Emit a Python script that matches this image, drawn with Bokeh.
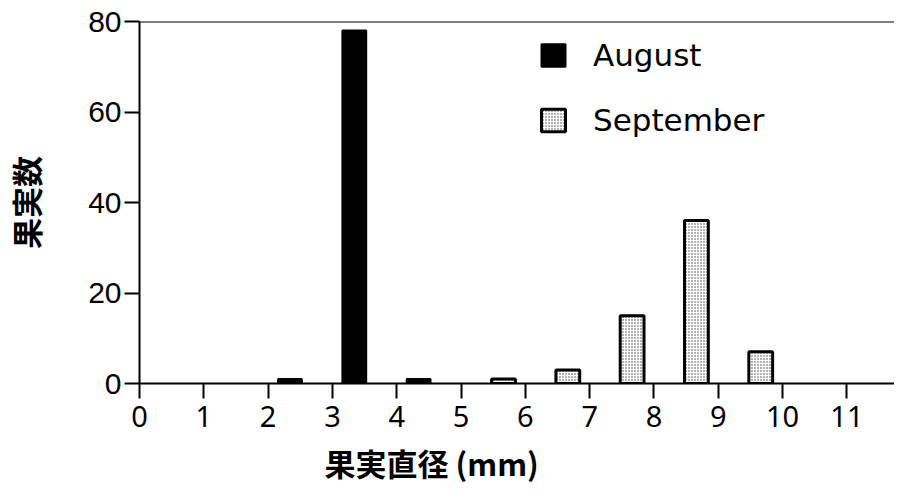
from bokeh.plotting import figure
from bokeh.models import (Range1d, ColumnDataSource, Legend, LegendItem, Title,
                          FixedTicker, Span)
from bokeh.transform import dodge
from bokeh.embed import file_html
from bokeh.resources import INLINE

# ---- data ----
bin_left = [0, 1, 2, 3, 4, 5, 6, 7, 8, 9, 10]
august = [0, 0, 1, 78, 1, 0, 0, 0, 0, 0, 0]
september = [0, 0, 0, 0, 0, 1, 3, 15, 36, 7, 0]
x_ticks = [0, 1, 2, 3, 4, 5, 6, 7, 8, 9, 10, 11]
y_ticks = [0, 20, 40, 60, 80]
x_title = "果実直径 (mm)"
y_title = "果実数"

aug_src = ColumnDataSource(dict(
    x=[b for b, v in zip(bin_left, august) if v > 0],
    y=[v for v in august if v > 0]))
sep_src = ColumnDataSource(dict(
    x=[b for b, v in zip(bin_left, september) if v > 0],
    y=[v for v in september if v > 0]))

p = figure(width=894, height=494, title=None,
           x_range=Range1d(0, 11.74), y_range=Range1d(0, 80),
           output_backend="svg", toolbar_location=None,
           min_border_left=128, min_border_right=0,
           min_border_top=21, min_border_bottom=111)

r_aug = p.vbar(x=dodge("x", 0.34, range=p.x_range), top="y", width=0.37,
               source=aug_src, fill_color="black", line_color="black",
               line_width=2)
r_sep = p.vbar(x=dodge("x", 0.66, range=p.x_range), top="y", width=0.37,
               source=sep_src, fill_color="white", line_color="black",
               line_width=3, hatch_pattern="dot", hatch_color="black",
               hatch_scale=3, hatch_weight=1, hatch_alpha=0.75)

p.xgrid.visible = False
p.ygrid.visible = False
p.outline_line_color = None
p.add_layout(Span(location=80, dimension="width", line_color="black",
                  line_width=2))

for ax in (p.xaxis[0], p.yaxis[0]):
    ax.axis_line_width = 2
    ax.axis_line_color = "black"
    ax.major_tick_line_width = 2
    ax.major_tick_line_color = "black"
    ax.major_tick_out = 15
    ax.major_tick_in = 0
    ax.minor_tick_line_color = None
    ax.major_label_text_color = "black"

p.xaxis.ticker = FixedTicker(ticks=x_ticks)
p.xaxis.major_label_text_font = "Noto Sans"
p.xaxis.major_label_text_font_size = "29px"
p.xaxis.major_label_standoff = 7

p.yaxis.ticker = FixedTicker(ticks=y_ticks)
p.yaxis.major_label_text_font = "Liberation Sans"
p.yaxis.major_label_text_font_size = "30px"
p.yaxis.major_label_standoff = 3
p.yaxis.axis_label = y_title
p.yaxis.axis_label_text_font = "Noto Sans CJK JP"
p.yaxis.axis_label_text_font_style = "bold"
p.yaxis.axis_label_text_font_size = "31px"
p.yaxis.axis_label_text_color = "black"
p.yaxis.axis_label_standoff = 37

xt = Title(text=x_title, align="left", offset=185, standoff=17,
           text_font="Noto Sans CJK JP", text_font_style="bold",
           text_font_size="31px", text_color="black")
p.add_layout(xt, "below")

legend = Legend(items=[LegendItem(label="August", renderers=[r_aug]),
                       LegendItem(label="September", renderers=[r_sep])],
                location=(399, 244), glyph_width=30, glyph_height=28,
                label_height=38, label_text_font="DejaVu Sans",
                label_text_font_size="31px", label_text_color="black",
                label_standoff=25, spacing=27, padding=0, margin=0,
                border_line_color=None, background_fill_alpha=0)
p.add_layout(legend)

open("out.html", "w").write(file_html(p, INLINE))
